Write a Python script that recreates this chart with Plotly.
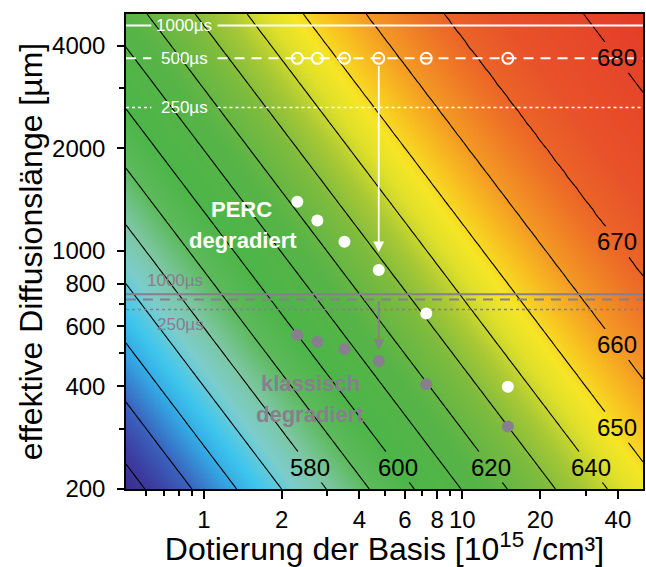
import numpy as np
import plotly.graph_objects as go

# ---------------- data ----------------
# Voc contour levels and the log10(N*L) product along which each contour runs
levels = [540, 550, 560, 570, 580, 590, 600, 610, 620, 630, 640, 650, 660, 670, 680]
log_NL = [2.073, 2.255, 2.428, 2.602, 2.775, 2.941, 3.115, 3.296, 3.475, 3.661,
          3.862, 4.079, 4.322, 4.623, 5.164]
labelled_bottom = [580, 600, 620, 640]
labelled_right = [650, 660, 670, 680]

# doping [1e15/cm3] of the measured samples
doping = [2.3, 2.75, 3.5, 4.75, 7.25, 15.0]
L_initial = [3670, 3670, 3670, 3670, 3670, 3670]      # open circles (500 µs line)
L_perc = [1392, 1226, 1062, 878, 655, 399]            # PERC degradiert
L_klass = [566, 541, 515, 475, 406, 305]               # klassisch degradiert

# lifetime reference lines (effective diffusion length in µm)
white_lines = {"1000µs": 4580, "500µs": 3670, "250µs": 2630}
gray_lines = {"1000µs": 746, "500µs": 720, "250µs": 672}

x_range = [0.5, 50]
y_range = [200, 4950]

x_ticks_major = [1, 2, 4, 6, 8, 10, 20, 40]
x_ticks_minor = [0.6, 0.7, 0.8, 0.9, 3, 5, 7, 9, 30]
y_ticks_major = [200, 400, 600, 800, 1000, 2000, 4000]
y_ticks_minor = [300, 500, 700, 3000]

# ---------------- colours ----------------
cs_stops = [(535, "#3b2a8c"), (542, "#3c3c9f"), (550, "#3a64be"), (558, "#34a2e0"),
            (565, "#3ec6ee"), (573, "#7ccdcc"), (581, "#7cc6a0"), (590, "#5dba5c"),
            (600, "#4db548"), (615, "#57b447"), (628, "#7dbb3e"), (636, "#a9c935"),
            (643, "#e0e02a"), (648, "#f6e626"), (654, "#f8c020"), (660, "#f49a24"),
            (667, "#ee7226"), (674, "#e8522a"), (685, "#e43a28")]
zmin, zmax = cs_stops[0][0], cs_stops[-1][0]
colorscale = [[(v - zmin) / (zmax - zmin), c] for v, c in cs_stops]


def z_of_u(u):
    u = np.asarray(u, float)
    z = np.interp(u, log_NL, levels)
    s_lo = (levels[1] - levels[0]) / (log_NL[1] - log_NL[0])
    s_hi = (levels[-1] - levels[-2]) / (log_NL[-1] - log_NL[-2])
    z = np.where(u < log_NL[0], levels[0] + (u - log_NL[0]) * s_lo, z)
    z = np.where(u > log_NL[-1], levels[-1] + (u - log_NL[-1]) * s_hi, z)
    return np.round(z, 3)


LX0, LX1 = np.log10(x_range[0]), np.log10(x_range[1])
LY0, LY1 = np.log10(y_range[0]), np.log10(y_range[1])

lx = np.linspace(LX0, LX1, 300)
ly = np.linspace(LY0, LY1, 280)
fig = go.Figure()
fig.add_trace(go.Heatmap(x=10 ** lx, y=10 ** ly, z=z_of_u(lx[None, :] + ly[:, None]),
                         colorscale=colorscale, zmin=zmin, zmax=zmax,
                         showscale=False, hoverinfo="skip"))

# label anchor positions (log axis units)
lab_logL = LY0 + 0.0645          # bottom row of contour labels
lab_logN = LX1 - 0.1024          # right column of contour labels
gap = 0.045                      # half-height of the gap in a line behind its label


def label_pos(lv):
    u = log_NL[levels.index(lv)]
    if lv in labelled_bottom:
        return u - lab_logL, lab_logL
    return lab_logN, u - lab_logN


def add_contour(lv, ylo, yhi):
    cx = np.linspace(LX0, LX1, 90)
    cy = np.linspace(ylo, yhi, max(8, int(90 * (yhi - ylo) / (LY1 - LY0))))
    fig.add_trace(go.Contour(
        x=10 ** cx, y=10 ** cy, z=z_of_u(cx[None, :] + cy[:, None]), autocontour=False,
        contours=dict(start=lv, end=lv, size=10, coloring="none", showlabels=False),
        line=dict(color="black", width=1.1), showscale=False, hoverinfo="skip"))


for lv in levels:
    if lv in labelled_bottom or lv in labelled_right:
        _, ly_lab = label_pos(lv)
        add_contour(lv, LY0, ly_lab - gap)
        add_contour(lv, ly_lab + gap, LY1)
    else:
        add_contour(lv, LY0, LY1)

WHITE = "white"
GRAY = "#877e8e"
dashes = {"1000µs": "solid", "500µs": "10px,7px", "250µs": "3px,3px"}
widths = {"1000µs": 2, "500µs": 2, "250µs": 1.5}
wlab_x = -0.075          # log10 position of the white line labels
wgap = 0.128
for name, L in white_lines.items():
    fig.add_trace(go.Scatter(x=[x_range[0], 10 ** (wlab_x - wgap), None, 10 ** (wlab_x + wgap), x_range[1]],
                             y=[L, L, None, L, L], mode="lines",
                             line=dict(color=WHITE, width=widths[name], dash=dashes[name]),
                             hoverinfo="skip", showlegend=False))
for name, L in gray_lines.items():
    fig.add_trace(go.Scatter(x=x_range, y=[L, L], mode="lines",
                             line=dict(color=GRAY, width=widths[name], dash=dashes[name]),
                             hoverinfo="skip", showlegend=False))

fig.add_trace(go.Scatter(x=doping, y=L_initial, mode="markers",
                         marker=dict(symbol="circle-open", size=11, color=WHITE, line=dict(width=2)),
                         hoverinfo="skip", showlegend=False))
fig.add_trace(go.Scatter(x=doping, y=L_perc, mode="markers",
                         marker=dict(size=12, color=WHITE), hoverinfo="skip", showlegend=False))
fig.add_trace(go.Scatter(x=doping, y=L_klass, mode="markers",
                         marker=dict(size=12, color=GRAY), hoverinfo="skip", showlegend=False))

FONT = "Arial, Liberation Sans, sans-serif"
ann = []
for lv in labelled_bottom + labelled_right:
    x, y = label_pos(lv)
    ann.append(dict(x=x, y=y, text=str(lv), showarrow=False,
                    font=dict(family=FONT, size=24, color="black")))

for name, L in white_lines.items():
    ann.append(dict(x=wlab_x, y=np.log10(L), text=name, showarrow=False,
                    font=dict(family=FONT, size=17, color=WHITE)))
ann.append(dict(x=-0.11, y=np.log10(gray_lines["1000µs"]) + 0.04, text="1000µs",
                showarrow=False, font=dict(family=FONT, size=17, color=GRAY)))
ann.append(dict(x=-0.09, y=np.log10(gray_lines["250µs"]) - 0.045, text="250µs",
                showarrow=False, font=dict(family=FONT, size=17, color=GRAY)))

# group labels (one annotation per line)
px_L = 1 / 341.0
ann.append(dict(x=np.log10(doping[0]) - 0.215, y=np.log10(L_perc[0]) - 8 * px_L,
                text="<b>PERC</b>", showarrow=False, font=dict(family=FONT, size=22, color=WHITE)))
ann.append(dict(x=np.log10(doping[0]) - 0.21, y=np.log10(L_perc[0]) - 39 * px_L,
                text="<b>degradiert</b>", showarrow=False, font=dict(family=FONT, size=22, color=WHITE)))
ann.append(dict(x=np.log10(doping[0]) + 0.05, y=np.log10(L_klass[0]) - 49 * px_L,
                text="<b>klassisch</b>", showarrow=False, font=dict(family=FONT, size=22, color=GRAY)))
ann.append(dict(x=np.log10(doping[0]) + 0.05, y=np.log10(L_klass[0]) - 80 * px_L,
                text="<b>degradiert</b>", showarrow=False, font=dict(family=FONT, size=22, color=GRAY)))

# arrows
ann.append(dict(x=np.log10(doping[3]), y=np.log10(990), ax=np.log10(doping[3]),
                ay=np.log10(3520), axref="x", ayref="y", xref="x", yref="y", text="",
                showarrow=True, arrowhead=2, arrowsize=1.2, arrowwidth=1.8, arrowcolor=WHITE))
ann.append(dict(x=np.log10(doping[3]), y=np.log10(512), ax=np.log10(doping[3]),
                ay=np.log10(gray_lines["500µs"]), axref="x", ayref="y", xref="x", yref="y", text="",
                showarrow=True, arrowhead=2, arrowsize=1.2, arrowwidth=1.8, arrowcolor=GRAY))

fig.update_layout(
    width=646, height=567, margin=dict(l=126, r=1, t=14, b=78),
    paper_bgcolor="white", plot_bgcolor="white", showlegend=False,
    font=dict(family=FONT, color="black"),
    annotations=ann,
    xaxis=dict(type="log", range=[LX0, LX1],
               tickvals=x_ticks_major, ticktext=[str(v) for v in x_ticks_major],
               ticks="outside", ticklen=8, tickwidth=1.5, tickcolor="black",
               minor=dict(tickvals=x_ticks_minor, ticks="outside", ticklen=5, tickwidth=1.5,
                          tickcolor="black"),
               tickfont=dict(size=24), showline=True, linecolor="black", linewidth=1.5,
               mirror=True, showgrid=False, zeroline=False,
               title=dict(text="Dotierung der Basis [10<sup>15</sup> /cm³]",
                          font=dict(size=32), standoff=3)),
    yaxis=dict(type="log", range=[LY0, LY1],
               tickvals=y_ticks_major, ticktext=[str(v) for v in y_ticks_major],
               ticks="outside", ticklen=7, tickwidth=1.5, tickcolor="black",
               minor=dict(tickvals=y_ticks_minor, ticks="outside", ticklen=5, tickwidth=1.5,
                          tickcolor="black"),
               tickfont=dict(size=24), showline=True, linecolor="black", linewidth=1.5,
               mirror=True, showgrid=False, zeroline=False, ticklabelstandoff=7,
               title=dict(text="effektive Diffusionslänge [µm]", font=dict(size=32), standoff=0)),
)

fig.write_html("out.html")
